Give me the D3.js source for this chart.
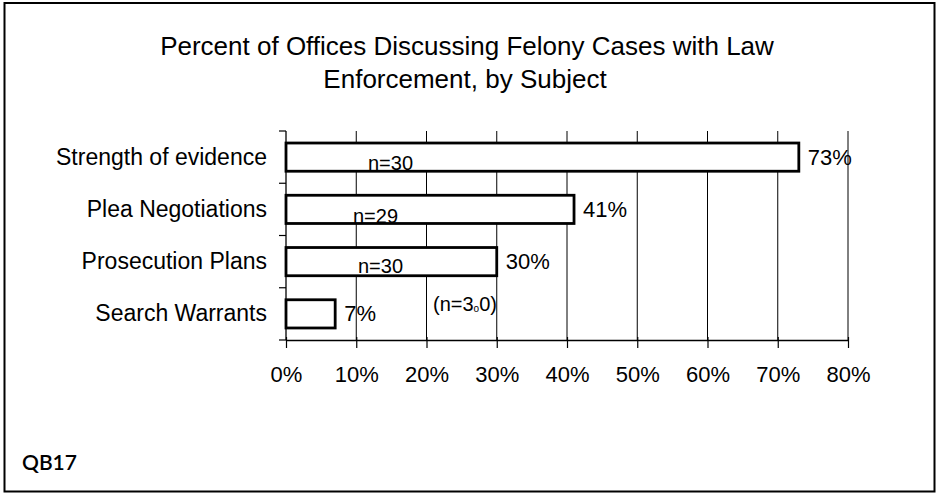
<!DOCTYPE html>
<html>
<head>
<meta charset="utf-8">
<script src="https://cdn.jsdelivr.net/npm/d3@7"></script>
<style>
  body { margin: 0; background: #fff; }
  text { font-family: "Liberation Sans", Arial, sans-serif; fill: #000; }
</style>
</head>
<body>
<svg id="chart" width="936" height="493"></svg>
<script>
// chart data
var categories = ["Strength of evidence", "Plea Negotiations", "Prosecution Plans", "Search Warrants"];
var percents = [73, 41, 30, 7];
var nLabels = ["n=30", "n=29", "n=30"];
var tickValues = [0, 10, 20, 30, 40, 50, 60, 70, 80];

var svg = d3.select("#chart");

// outer frame
svg.append("rect")
    .attr("x", 4.5).attr("y", 3)
    .attr("width", 930).attr("height", 488.5)
    .attr("fill", "none")
    .attr("stroke", "#000")
    .attr("stroke-width", 2);

// title
var title = svg.append("text")
    .attr("text-anchor", "middle")
    .style("font-size", "26px");
title.append("tspan").attr("x", 467).attr("y", 55).text("Percent of Offices Discussing Felony Cases with Law");
title.append("tspan").attr("x", 465).attr("y", 88).text("Enforcement, by Subject");

// plot area edges (plotTop, not "top", since window.top is taken)
var plotLeft = 286, plotRight = 848, plotTop = 131, plotBottom = 340;

var x = d3.scaleLinear().domain([0, 80]).range([plotLeft, plotRight]);
var y = d3.scaleBand().domain(categories).range([plotTop, plotBottom]).paddingInner(0.46).paddingOuter(0.23);

// gridlines
svg.append("g")
    .selectAll("line")
    .data(tickValues.slice(1))
    .enter()
    .append("line")
        .attr("x1", function(d) { return x(d); })
        .attr("x2", function(d) { return x(d); })
        .attr("y1", plotTop)
        .attr("y2", plotBottom)
        .attr("stroke", "#000")
        .attr("stroke-width", 1);

// x axis
var xAxis = svg.append("g")
    .attr("transform", "translate(0," + plotBottom + ")")
    .call(d3.axisBottom(x).tickValues(tickValues).tickFormat(function(d) { return d + "%"; }).tickSize(8).tickSizeOuter(0).tickPadding(18));
xAxis.select(".domain").attr("stroke-width", 1.3);
xAxis.selectAll(".tick line").attr("y1", -3).attr("stroke-width", 1.2);
xAxis.selectAll("text")
    .style("font-size", "22px")
    .style("font-family", "Liberation Sans, Arial, sans-serif")
    .attr("fill", "#000");

// y axis line and boundary ticks
svg.append("line")
    .attr("x1", plotLeft).attr("x2", plotLeft)
    .attr("y1", plotTop).attr("y2", plotBottom)
    .attr("stroke", "#000").attr("stroke-width", 1.3);

var step = (plotBottom - plotTop) / categories.length;
svg.append("g")
    .selectAll("line")
    .data(d3.range(categories.length + 1))
    .enter()
    .append("line")
        .attr("x1", plotLeft - 7).attr("x2", plotLeft)
        .attr("y1", function(d) { return plotTop + d * step; })
        .attr("y2", function(d) { return plotTop + d * step; })
        .attr("stroke", "#000").attr("stroke-width", 1.2);

// category labels
svg.append("g")
    .selectAll("text")
    .data(categories)
    .enter()
    .append("text")
        .attr("x", 267)
        .attr("y", function(d) { return y(d) + y.bandwidth() / 2 + 7.5; })
        .attr("text-anchor", "end")
        .style("font-size", "23px")
        .text(function(d) { return d; });

// bars
svg.append("g")
    .selectAll("rect")
    .data(categories)
    .enter()
    .append("rect")
        .attr("x", x(0))
        .attr("y", function(d) { return y(d); })
        .attr("width", function(d, i) { return x(percents[i]) - x(0); })
        .attr("height", y.bandwidth())
        .attr("fill", "#fff")
        .attr("stroke", "#000")
        .attr("stroke-width", 2.8);

// value labels
svg.append("g")
    .selectAll("text")
    .data(categories)
    .enter()
    .append("text")
        .attr("x", function(d, i) { return x(percents[i]) + 9; })
        .attr("y", function(d) { return y(d) + y.bandwidth() / 2 + 7.5; })
        .style("font-size", "22px")
        .text(function(d, i) { return percents[i] + "%"; });

// n labels sitting on the lower bar edges
var nX = [368, 353, 358];
var nDy = [-1, 0, -3];
svg.append("g")
    .selectAll("text")
    .data(nLabels)
    .enter()
    .append("text")
        .attr("x", function(d, i) { return nX[i]; })
        .attr("y", function(d, i) { return y(categories[i]) + y.bandwidth() + nDy[i]; })
        .style("font-size", "20px")
        .text(function(d) { return d; });

// stray note under the prosecution bar
var note = svg.append("text")
    .attr("x", 433)
    .attr("y", 311)
    .style("font-size", "20px");
note.append("tspan").text("(n=3");
note.append("tspan").style("font-size", "10px").attr("dy", 1).text("o");
note.append("tspan").attr("dy", -1).text("0)");

// footer label
svg.append("text")
    .attr("x", 22)
    .attr("y", 470)
    .style("font-family", "Lato, 'Open Sans', sans-serif")
    .style("font-weight", "600")
    .style("font-size", "21px")
    .text("QB17");
</script>
</body>
</html>
